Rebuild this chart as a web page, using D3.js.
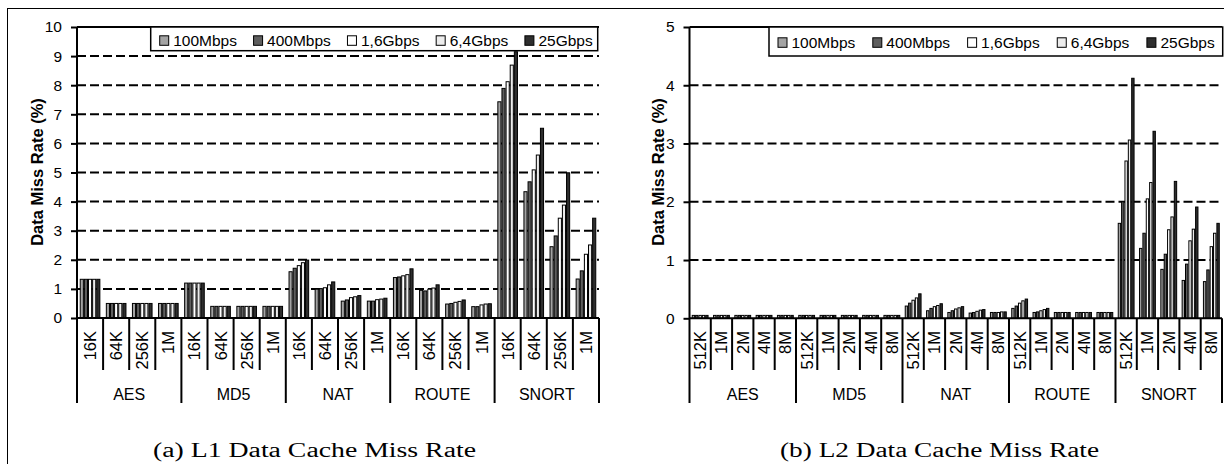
<!DOCTYPE html>
<html>
<head>
<meta charset="utf-8">
<script src="https://cdn.jsdelivr.net/npm/d3@7"></script>
<style>
  body { margin: 0; background: #fff; }
  svg text { font-family: Arial, "Liberation Sans", sans-serif; fill: #000; }
  .caption { font-family: "Liberation Serif", "Times New Roman", serif; }
</style>
</head>
<body>
<div id="chart"></div>
<script>
// categorias
const speeds = ["100Mbps", "400Mbps", "1,6Gbps", "6,4Gbps", "25Gbps"];
const apps = ["AES", "MD5", "NAT", "ROUTE", "SNORT"];
const l1Sizes = ["16K", "64K", "256K", "1M"];
const l2Sizes = ["512K", "1M", "2M", "4M", "8M"];
const l1Ticks = [0, 1, 2, 3, 4, 5, 6, 7, 8, 9, 10];
const l2Ticks = [0, 1, 2, 3, 4, 5];

// L1 miss rate (%), uma linha por tamanho de cache, uma coluna por velocidade
const l1AES   = [[1.33, 1.33, 1.33, 1.33, 1.33], [0.5, 0.5, 0.5, 0.5, 0.5], [0.5, 0.5, 0.5, 0.5, 0.5], [0.5, 0.5, 0.5, 0.5, 0.5]];
const l1MD5   = [[1.2, 1.2, 1.2, 1.2, 1.2], [0.4, 0.4, 0.4, 0.4, 0.4], [0.4, 0.4, 0.4, 0.4, 0.4], [0.4, 0.4, 0.4, 0.4, 0.4]];
const l1NAT   = [[1.59, 1.71, 1.80, 1.90, 1.99], [0.99, 1.01, 1.04, 1.14, 1.24], [0.58, 0.62, 0.70, 0.73, 0.77], [0.58, 0.58, 0.63, 0.65, 0.68]];
const l1ROUTE = [[1.39, 1.41, 1.45, 1.49, 1.69], [0.95, 0.93, 0.99, 1.03, 1.14], [0.48, 0.50, 0.54, 0.57, 0.62], [0.39, 0.39, 0.45, 0.48, 0.49]];
const l1SNORT = [[7.43, 7.89, 8.12, 8.69, 9.15], [4.34, 4.68, 5.09, 5.60, 6.52], [2.45, 2.82, 3.43, 3.88, 4.99], [1.34, 1.62, 2.19, 2.51, 3.43]];

// L2 miss rate (%)
const l2AES   = [[0.05, 0.05, 0.05, 0.05, 0.05], [0.05, 0.05, 0.05, 0.05, 0.05], [0.05, 0.05, 0.05, 0.05, 0.05], [0.05, 0.05, 0.05, 0.05, 0.05], [0.05, 0.05, 0.05, 0.05, 0.05]];
const l2MD5   = [[0.05, 0.05, 0.05, 0.05, 0.05], [0.05, 0.05, 0.05, 0.05, 0.05], [0.05, 0.05, 0.05, 0.05, 0.05], [0.05, 0.05, 0.05, 0.05, 0.05], [0.05, 0.05, 0.05, 0.05, 0.05]];
const l2NAT   = [[0.21, 0.26, 0.31, 0.35, 0.42], [0.13, 0.17, 0.20, 0.22, 0.25], [0.10, 0.13, 0.16, 0.18, 0.20], [0.09, 0.10, 0.12, 0.14, 0.15], [0.10, 0.10, 0.10, 0.11, 0.11]];
const l2ROUTE = [[0.17, 0.21, 0.26, 0.30, 0.33], [0.10, 0.11, 0.13, 0.15, 0.17], [0.10, 0.10, 0.10, 0.10, 0.10], [0.10, 0.10, 0.10, 0.10, 0.10], [0.10, 0.10, 0.10, 0.10, 0.10]];
const l2SNORT = [[1.63, 2.00, 2.70, 3.06, 4.12], [1.20, 1.46, 2.05, 2.33, 3.21], [0.84, 1.10, 1.52, 1.74, 2.35], [0.65, 0.93, 1.33, 1.53, 1.91], [0.63, 0.83, 1.23, 1.46, 1.63]];

const fills = ["#a3a3a3", "#5e5e5e", "#ffffff", "#ececec", "#2e2e2e"];

const svg = d3.select("#chart").append("svg")
    .attr("width", 1224).attr("height", 464);

// moldura externa (cortada embaixo e a direita)
svg.append("rect")
    .attr("x", 7.5).attr("y", 8.5).attr("width", 1240).attr("height", 480)
    .attr("fill", "none").attr("stroke", "#000").attr("stroke-width", 1);

function desenha(cfg) {
  const g = svg.append("g");
  const clusters = [];
  cfg.values.forEach((linhas, a) => linhas.forEach((vals, s) => {
    clusters.push({ app: apps[a], size: cfg.sizes[s], id: apps[a] + "|" + cfg.sizes[s], vals: vals });
  }));

  const x = d3.scaleBand().domain(clusters.map(d => d.id))
      .range([cfg.x0, cfg.x1]).paddingInner(0.21).paddingOuter(0.105);
  const xb = d3.scaleBand().domain(speeds).range([0, x.bandwidth()]);
  const y = d3.scaleLinear().domain([0, cfg.max]).range([cfg.y0, cfg.y1]);
  const borda = id => x(id) - x.step() * x.paddingInner() / 2;

  // linhas de grade
  g.selectAll(".grid").data(cfg.ticks.filter(t => t > 0 && t < cfg.max)).enter()
    .append("line")
      .attr("x1", cfg.x0).attr("x2", cfg.x1)
      .attr("y1", d => y(d)).attr("y2", d => y(d))
      .attr("stroke", "#000").attr("stroke-width", 2).attr("stroke-dasharray", "9,4");
  g.append("line")
      .attr("x1", cfg.x0).attr("x2", cfg.x1)
      .attr("y1", y(cfg.max)).attr("y2", y(cfg.max))
      .attr("stroke", "#000").attr("stroke-width", 2);

  // barras
  const cl = g.selectAll(".cl").data(clusters).enter().append("g")
      .attr("transform", d => "translate(" + x(d.id) + ",0)");
  cl.selectAll("rect").data(d => d.vals.map((v, i) => ({ s: speeds[i], v: v, i: i }))).enter()
    .append("rect")
      .attr("x", d => xb(d.s) + 0.5)
      .attr("width", xb.bandwidth() - 1)
      .attr("y", d => y(d.v))
      .attr("height", d => cfg.y0 - y(d.v))
      .attr("fill", d => fills[d.i])
      .attr("stroke", "#000").attr("stroke-width", 1);

  // eixo y
  const ay = g.append("g").attr("transform", "translate(" + cfg.x0 + ",0)")
      .call(d3.axisLeft(y).tickValues(cfg.ticks).tickFormat(d3.format("d")).tickSize(6).tickPadding(9));
  ay.select(".domain").remove();
  ay.selectAll(".tick line").attr("stroke-width", 2);
  ay.selectAll(".tick text").style("font-size", "15.5px").attr("font-family", null);

  // eixo x e separadores
  g.append("line").attr("x1", cfg.x0).attr("x2", cfg.x1)
      .attr("y1", cfg.y0).attr("y2", cfg.y0).attr("stroke", "#000").attr("stroke-width", 2);
  g.selectAll(".sep").data(clusters).enter().append("line")
      .attr("x1", d => borda(d.id)).attr("x2", d => borda(d.id))
      .attr("y1", (d, i) => i === 0 ? cfg.y1 : cfg.y0)
      .attr("y2", d => d.size === cfg.sizes[0] ? 403 : 370)
      .attr("stroke", "#000").attr("stroke-width", 2);
  g.append("line").attr("x1", cfg.x1).attr("x2", cfg.x1)
      .attr("y1", cfg.y0).attr("y2", 403).attr("stroke", "#000").attr("stroke-width", 2);

  g.selectAll(".sub").data(clusters).enter().append("text")
      .attr("transform", d => "translate(" + (x(d.id) + x.bandwidth() / 2) + ",331) rotate(-90)")
      .attr("dy", "0.36em").attr("text-anchor", "end")
      .style("font-size", "16.5px")
      .text(d => d.size);

  const n = cfg.sizes.length;
  g.selectAll(".grp").data(apps).enter().append("text")
      .attr("x", (d, a) => borda(d + "|" + cfg.sizes[0]) + x.step() * n / 2)
      .attr("y", 399.5).attr("text-anchor", "middle")
      .style("font-size", "16px")
      .text(d => d);

  // titulo do eixo y
  g.append("text")
      .attr("transform", "translate(" + cfg.titleX + ",172) rotate(-90)")
      .attr("text-anchor", "middle")
      .style("font-size", "16.5px").style("font-weight", "bold")
      .text("Data Miss Rate (%)");

  // legenda
  const L = cfg.legend;
  g.append("rect").attr("x", L.x).attr("y", L.y).attr("width", L.w).attr("height", L.h)
      .attr("fill", "#fff").attr("stroke", "#000").attr("stroke-width", 1.5);
  const itens = g.selectAll(".leg").data(speeds).enter().append("g");
  itens.append("rect").attr("width", 9).attr("height", 9.5)
      .attr("y", L.base - 10.5)
      .attr("fill", (d, i) => fills[i]).attr("stroke", "#000").attr("stroke-width", 1);
  itens.append("text").attr("x", 13.5).attr("y", L.base)
      .style("font-size", "15.5px").text(d => d);
  const larg = [];
  itens.each(function () { larg.push(13.5 + this.querySelector("text").getComputedTextLength()); });
  const gap = (L.w - 9 - L.padR - d3.sum(larg)) / (speeds.length - 1);
  let px = L.x + 9;
  itens.attr("transform", (d, i) => { const t = "translate(" + px + ",0)"; px += larg[i] + gap; return t; });

  // legenda da figura
  svg.append("text").attr("class", "caption")
      .attr("x", cfg.capX).attr("y", 457)
      .attr("textLength", cfg.capW).attr("lengthAdjust", "spacingAndGlyphs")
      .style("font-size", "20px")
      .text(cfg.caption);
}

desenha({
  x0: 77, x1: 599, y0: 318, y1: 27, max: 10, ticks: l1Ticks, sizes: l1Sizes,
  values: [l1AES, l1MD5, l1NAT, l1ROUTE, l1SNORT],
  legend: { x: 150.7, y: 27, w: 447, h: 23.7, padR: 5, base: 46.3 },
  titleX: 43, caption: "(a) L1 Data Cache Miss Rate", capX: 153, capW: 323
});
desenha({
  x0: 689.5, x1: 1222, y0: 318.3, y1: 27, max: 5, ticks: l2Ticks, sizes: l2Sizes,
  values: [l2AES, l2MD5, l2NAT, l2ROUTE, l2SNORT],
  legend: { x: 769, y: 27, w: 453.7, h: 29, padR: 8, base: 48.3 },
  titleX: 664, caption: "(b) L2 Data Cache Miss Rate", capX: 780, capW: 319
});
</script>
</body>
</html>
